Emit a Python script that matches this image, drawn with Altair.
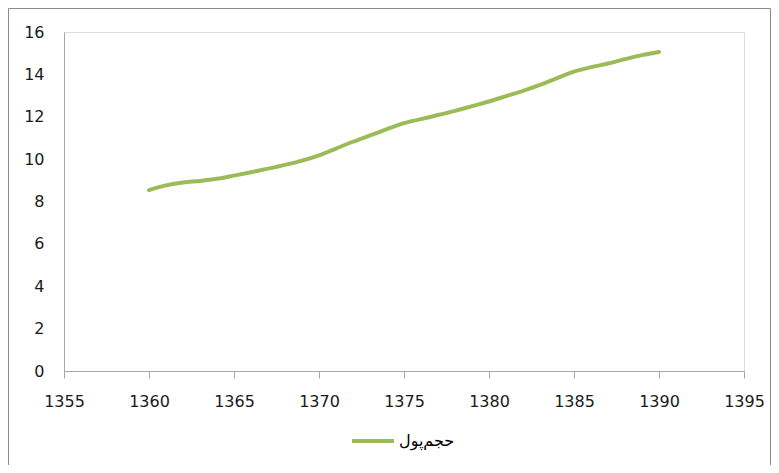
import altair as alt
import pandas as pd

years = list(range(1360, 1391))
values = [8.54, 8.76, 8.90, 8.97, 9.07, 9.22, 9.38, 9.55, 9.73, 9.93, 10.18,
          10.50, 10.82, 11.12, 11.42, 11.70, 11.89, 12.08, 12.28, 12.50, 12.72,
          12.97, 13.22, 13.50, 13.82, 14.13, 14.34, 14.51, 14.72, 14.91, 15.06]
series_name = "حجم\u200cپول"
x_ticks = [1355, 1360, 1365, 1370, 1375, 1380, 1385, 1390, 1395]
y_ticks = [0, 2, 4, 6, 8, 10, 12, 14, 16]

df = pd.DataFrame({"year": years, "value": values, "series": [series_name] * len(years)})

FONT = "DejaVu Sans"
AXIS_COLOR = "#a6a6a6"

line = alt.Chart(df).mark_line(interpolate="monotone", strokeWidth=4, strokeCap="round").encode(
    x=alt.X("year:Q", scale=alt.Scale(domain=[1355, 1395], nice=False, zero=False),
            axis=alt.Axis(values=x_ticks, format="d", title=None, grid=False,
                          domainColor=AXIS_COLOR, tickColor=AXIS_COLOR, tickSize=7,
                          labelPadding=15, labelFont=FONT, labelFontSize=16,
                          labelColor="#1a1a1a", labelFlush=False)),
    y=alt.Y("value:Q", scale=alt.Scale(domain=[0, 16], nice=False),
            axis=alt.Axis(values=y_ticks, title=None, grid=False, ticks=False, tickSize=0,
                          domainColor=AXIS_COLOR, labelPadding=20, labelFont=FONT,
                          labelFontSize=16, labelColor="#1a1a1a")),
    color=alt.Color("series:N", scale=alt.Scale(range=["#9BBB59"]),
                    legend=alt.Legend(title=None, orient="none", legendX=286, legendY=386,
                                      symbolType="stroke", symbolSize=1764, symbolStrokeWidth=4,
                                      labelFont=FONT, labelFontSize=16, labelColor="#000000",
                                      labelOffset=3)),
)

border = alt.Chart(alt.Data(values=[{}])).mark_rect(
    fill="transparent", stroke="#8c8c8c", strokeWidth=1
).encode(
    x=alt.value(-55.5), x2=alt.value(706.5), y=alt.value(-23.5), y2=alt.value(600)
)

chart = alt.layer(border, line).properties(
    width=680, height=339,
    autosize=alt.AutoSizeParams(type="none"),
    padding={"left": 56, "top": 24, "right": 27, "bottom": 94},
).configure_view(stroke=None).configure(background="white")

chart.save("out.html", embed_options={"renderer": "svg", "actions": False})
